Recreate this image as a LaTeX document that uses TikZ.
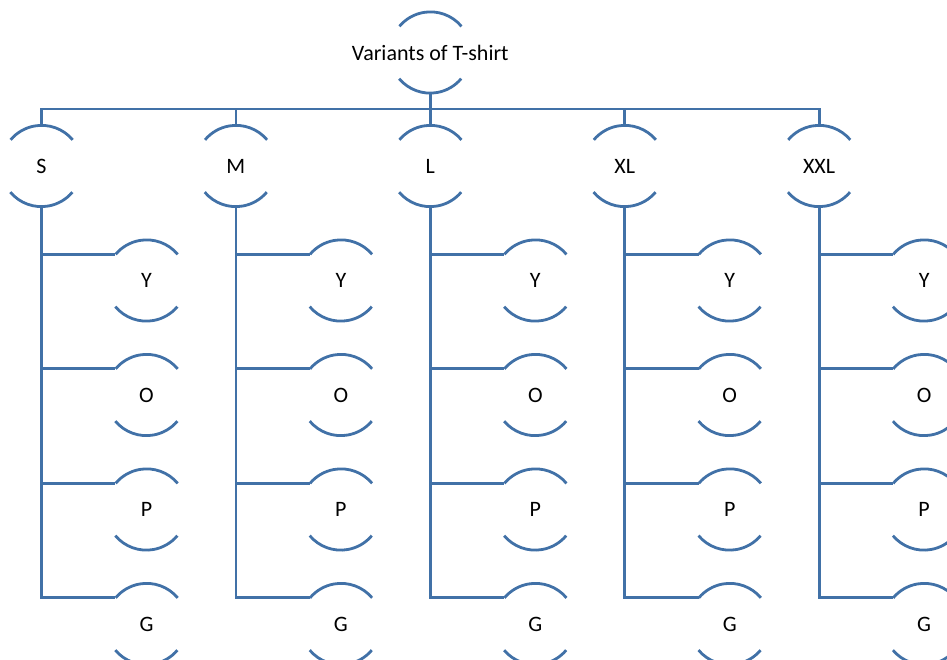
\documentclass[tikz,border=0pt]{standalone}
\usepackage{fontspec}
\setmainfont{Carlito}
\definecolor{arcblue}{RGB}{65,113,167}
\newcommand{\zw}[1]{\makebox[0pt][c]{#1}}
\begin{document}
\begin{tikzpicture}[x=1pt,y=-1pt,
  lbl/.style={circle,minimum size=81pt,inner sep=0pt,font=\fontsize{22}{24}\selectfont},
  ln/.style={draw=arcblue,line width=2.8pt}]
\useasboundingbox (0,0) rectangle (947,660);
\clip (0,0) rectangle (947,660);
% root
\node[lbl] (root) at (430.3,52.5) {\zw{Variants of T-shirt}};
\coordinate (bus) at (430.3,109);
% level 2
\foreach \n/\t/\x in {s/S/41.5, m/M/235.9, l/L/430.3, xl/XL/624.7, xxl/XXL/819.1}{
  \node[lbl] (\n) at (\x,166) {\zw{\t}};
  \foreach \c/\ct/\y in {y/Y/280.5, o/O/395, p/P/509.5, g/G/624}{
    \node[lbl] (\n\c) at (\x+105,\y) {\zw{\ct}};
  }
}
% arcs
\foreach \n in {root,s,m,l,xl,xxl,sy,so,sp,sg,my,mo,mp,mg,ly,lo,lp,lg,xly,xlo,xlp,xlg,xxly,xxlo,xxlp,xxlg}{
  \draw[ln] (\n.40) arc[start angle=-40,end angle=-140,radius=40.5];
  \draw[ln] (\n.220) arc[start angle=140,end angle=40,radius=40.5];
}
% connectors
\draw[ln] (root.south) -- (root.south |- bus);
\draw[ln,line cap=rect] (s.north |- bus) -- (xxl.north |- bus);
\foreach \n in {s,m,l,xl,xxl}{
  \draw[ln] (\n.north) -- (\n.north |- bus);
  \foreach \c in {y,o,p,g}{
    \draw[ln] (\n.south) |- (\n\c.140);
  }
}
\end{tikzpicture}
\end{document}
